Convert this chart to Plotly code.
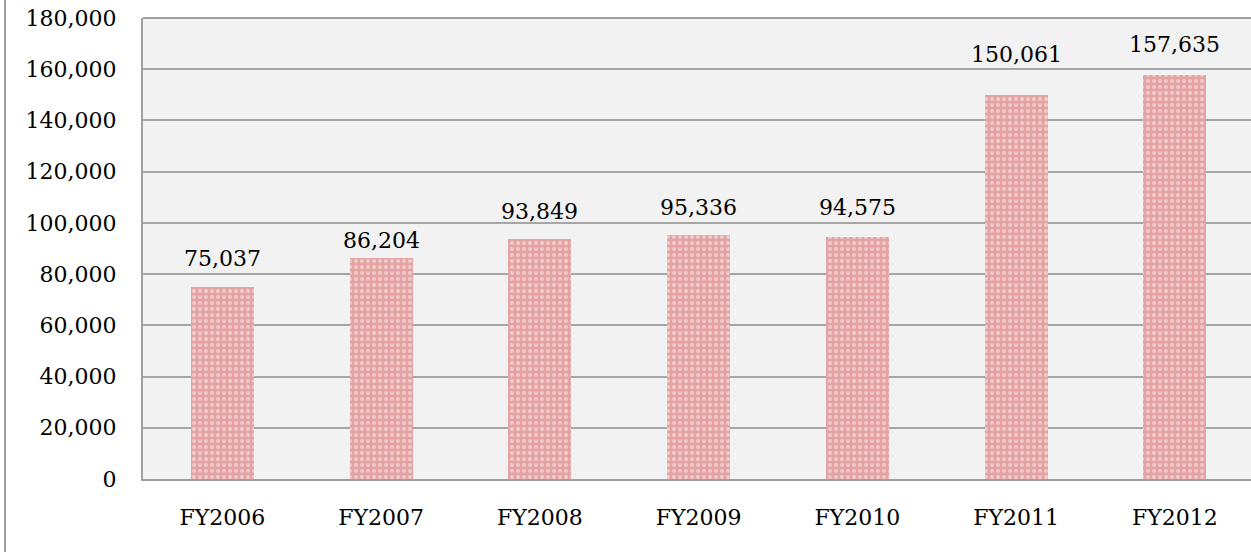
import plotly.graph_objects as go

categories = ["FY2006", "FY2007", "FY2008", "FY2009", "FY2010", "FY2011", "FY2012"]
values = [75037, 86204, 93849, 95336, 94575, 150061, 157635]
y_ticks = [0, 20000, 40000, 60000, 80000, 100000, 120000, 140000, 160000, 180000]

# label offsets above bar tops (pixels), as placed in the original
label_yshift = [14, 3, 13, 13, 15, 26, 16]

FONT = "DejaVu Serif"
FS = 22

fig = go.Figure(
    go.Bar(
        x=list(range(len(categories))),
        y=values,
        width=0.397,
        marker=dict(
            color="#e3a3a3",
            line=dict(width=0),
            pattern=dict(shape=".", fgcolor="#f2c9c9", bgcolor="#e3a3a3",
                         size=6, solidity=0.35, fillmode="replace"),
        ),
        showlegend=False,
        hoverinfo="skip",
    )
)

annotations = [
    dict(x=i, y=v, xref="x", yref="y", text=f"{v:,}", showarrow=False,
         yanchor="bottom", xanchor="center", yshift=label_yshift[i],
         font=dict(family=FONT, size=FS, color="#000000"))
    for i, v in enumerate(values)
]

fig.update_layout(
    width=1251,
    height=552,
    margin=dict(l=143, r=0, t=18, b=73),
    paper_bgcolor="#ffffff",
    plot_bgcolor="#f2f2f2",
    bargap=0,
    annotations=annotations,
    xaxis=dict(
        range=[-0.5, 6.48],
        tickmode="array",
        tickvals=list(range(len(categories))),
        ticktext=categories,
        showgrid=False,
        zeroline=False,
        showline=True,
        linecolor="#a0a0a0",
        linewidth=2,
        ticks="",
        ticklabelstandoff=18,
        ticklabeloverflow="allow",
        tickfont=dict(family=FONT, size=FS, color="#000000"),
    ),
    yaxis=dict(
        range=[0, 180000],
        tickmode="array",
        tickvals=y_ticks,
        tickformat=",",
        showgrid=True,
        gridcolor="#a6a6a6",
        gridwidth=1.5,
        zeroline=False,
        showline=True,
        linecolor="#a0a0a0",
        linewidth=2,
        ticks="",
        ticklabelstandoff=20,
        tickfont=dict(family=FONT, size=FS, color="#000000"),
    ),
    shapes=[
        dict(type="line", xref="paper", yref="paper",
             x0=(5 - 143) / 1108, x1=(5 - 143) / 1108,
             y0=-0.2, y1=1.1,
             line=dict(color="#a0a0a0", width=2)),
        dict(type="line", xref="paper", yref="paper",
             x0=0, x1=1, y0=1, y1=1,
             line=dict(color="#a0a0a0", width=2)),
    ],
)

fig.write_html(
    "out.html",
    config={"displayModeBar": False},
    post_script="document.body.style.margin='0';document.body.style.overflow='hidden';",
)
